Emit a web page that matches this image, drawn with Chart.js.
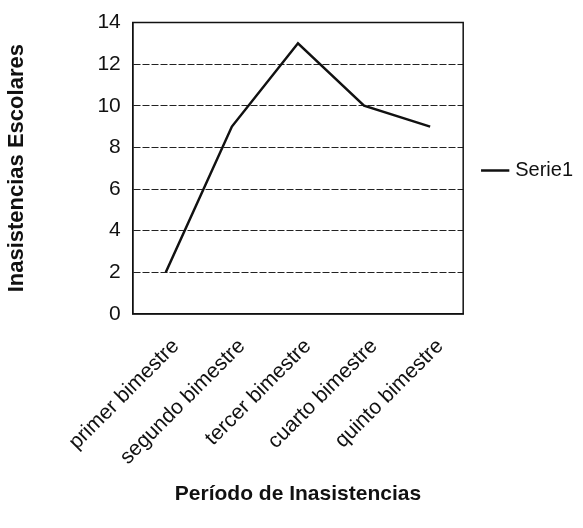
<!DOCTYPE html>
<html>
<head>
<meta charset="utf-8">
<script src="https://cdn.jsdelivr.net/npm/chart.js@4"></script>
<style>
    html, body { margin: 0; padding: 0; background: #fff; }
    #wrap { width: 583px; height: 528px; }
</style>
</head>
<body>
<div id="wrap"><canvas id="chart"></canvas></div>
<script>
// Data
const periods = ['primer bimestre', 'segundo bimestre', 'tercer bimestre', 'cuarto bimestre', 'quinto bimestre'];
const serie1 = [2, 9, 13, 10, 9];
const yMin = 0;
const yMax = 14;
const yStep = 2;

// Frame around the plot area
const frame = {
    id: 'frame',
    afterDraw(chart) {
        const a = chart.chartArea;
        const ctx = chart.ctx;
        ctx.save();
        ctx.strokeStyle = '#111';
        ctx.lineWidth = 1.5;
        ctx.strokeRect(a.left, a.top, a.right - a.left, a.bottom - a.top);
        ctx.restore();
    }
};

new Chart(document.getElementById('chart'), {
    type: 'line',
    data: {
        labels: periods,
        datasets: [{
            label: 'Serie1',
            data: serie1,
            borderColor: '#111',
            backgroundColor: '#111',
            borderWidth: 2.5,
            pointRadius: 0,
            tension: 0
        }]
    },
    options: {
        responsive: true,
        maintainAspectRatio: false,
        animation: false,
        layout: { padding: { top: 4, right: 0, left: 4, bottom: 17 } },
        plugins: {
            legend: {
                position: 'right',
                align: 'start',
                title: {
                    display: true,
                    text: ' ',
                    padding: { top: 120, bottom: 0 }
                },
                labels: {
                    usePointStyle: true,
                    pointStyle: 'line',
                    boxWidth: 27,
                    color: '#111',
                    font: { family: 'Liberation Sans', size: 20 },
                    padding: 22
                }
            },
            tooltip: { enabled: false }
        },
        scales: {
            x: {
                offset: true,
                grid: { display: false },
                border: { color: '#111', width: 1.5 },
                ticks: {
                    color: '#111',
                    minRotation: 45,
                    maxRotation: 45,
                    padding: 12,
                    labelOffset: 10,
                    font: { family: 'Liberation Sans', size: 21 }
                },
                title: {
                    display: true,
                    text: 'Período de Inasistencias',
                    color: '#111',
                    font: { family: 'Liberation Sans', size: 21, weight: 'bold' },
                    padding: { top: 0 }
                }
            },
            y: {
                min: yMin,
                max: yMax,
                grid: {
                    color: '#222',
                    lineWidth: 1,
                    drawTicks: false
                },
                border: { color: '#111', width: 1.5, dash: [7, 2] },
                ticks: {
                    stepSize: yStep,
                    color: '#111',
                    padding: 12,
                    font: { family: 'Liberation Sans', size: 21, lineHeight: 1 }
                },
                title: {
                    display: true,
                    text: 'Inasistencias Escolares',
                    color: '#111',
                    font: { family: 'Liberation Sans', size: 22, weight: 'bold' },
                    padding: { top: 0, bottom: 55 }
                }
            }
        }
    },
    plugins: [frame]
});
</script>
</body>
</html>
